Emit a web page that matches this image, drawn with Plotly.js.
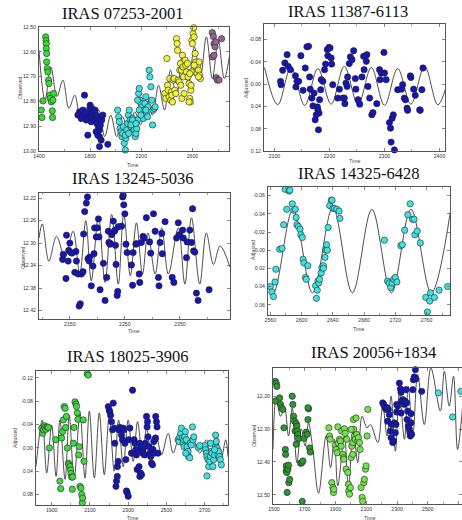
<!DOCTYPE html>
<html><head><meta charset="utf-8">
<script src="https://cdn.plot.ly/plotly-3.0.1.min.js"></script>
<style>html,body{margin:0;padding:0;background:#fff}#chart{width:462px;height:520px}</style>
</head><body><div id="chart"></div>
<script>
// ---------- Titles ----------
const titles = ["IRAS 07253-2001","IRAS 11387-6113","IRAS 13245-5036","IRAS 14325-6428","IRAS 18025-3906","IRAS 20056+1834"];
const yTitles = ["Observed","Adjusted","Observed","Adjusted","Adjusted","Observed"];

// ---------- Panel 1: IRAS 07253-2001 ----------
const p1GreenX = [1418,1423,1431,1452,1455,1457,1457,1460,1460,1465,1470,1475,1478,1483,1488,1496,1509,1514,1504,1506];
const p1GreenY = [12.835,12.865,12.798,12.540,12.555,12.567,12.587,12.607,12.641,12.668,12.681,12.714,12.728,12.775,12.788,12.802,12.795,12.768,12.838,12.865];
const p1BlueX = [1704,1717,1730,1738,1756,1769,1782,1790,1795,1800,1808,1813,1821,1828,1834,1839,1847,1852,1860,1865,1873,1880,1886,1891,1873,1886,1873,1782,1938,1847,1808,1899,1730,1743,1764,1860];
const p1BlueY = [12.855,12.842,12.848,12.862,12.775,12.875,12.869,12.855,12.835,12.815,12.848,12.828,12.862,12.842,12.875,12.835,12.855,12.889,12.869,12.902,12.915,12.895,12.862,12.875,12.942,12.956,12.982,12.936,12.973,12.922,12.882,12.855,12.869,12.835,12.848,12.936];
const p1CyanX = [2015,2023,2028,2034,2041,2049,2054,2060,2067,2075,2080,2086,2093,2099,2106,2112,2119,2125,2132,2138,2145,2153,2158,2164,2171,2179,2184,2190,2197,2205,2210,2216,2223,2228,2236,2241,2249,2254,2262,2267,2275,2283,2288,2293,2301,2309,2184,2236,2132,2171,2119,2075,2101,2158,2197];
const p1CyanY = [12.835,12.862,12.882,12.909,12.922,12.942,12.929,12.902,12.969,12.996,12.949,12.915,12.889,12.855,12.835,12.875,12.902,12.882,12.869,12.895,12.915,12.942,12.929,12.909,12.875,12.768,12.748,12.795,12.808,12.822,12.848,12.869,12.835,12.808,12.781,12.848,12.862,12.822,12.674,12.701,12.741,12.795,12.895,12.835,12.828,12.822,12.835,12.835,12.875,12.795,12.895,12.936,12.929,12.889,12.855];
const p1YellowX = [2384,2392,2400,2405,2410,2418,2423,2431,2436,2439,2444,2449,2457,2462,2470,2475,2480,2483,2488,2496,2501,2506,2509,2514,2517,2522,2527,2530,2535,2543,2548,2553,2561,2566,2574,2579,2584,2587,2589,2592,2595,2600,2605,2610,2613,2621,2626,2631,2636,2641,2647,2652,2657,2662,2574,2579,2647,2613];
const p1YellowY = [12.768,12.788,12.627,12.735,12.755,12.781,12.708,12.795,12.761,12.775,12.802,12.714,12.708,12.755,12.768,12.547,12.567,12.594,12.714,12.721,12.674,12.647,12.735,12.674,12.788,12.614,12.661,12.701,12.768,12.634,12.654,12.681,12.647,12.701,12.728,12.788,12.802,12.755,12.735,12.681,12.554,12.567,12.527,12.503,12.540,12.607,12.641,12.661,12.688,12.654,12.674,12.641,12.694,12.708,12.802,12.688,12.701,12.654];
const p1PurpleX = [2756,2764,2756,2769,2777,2782,2787,2795,2808,2828,2769];
const p1PurpleY = [12.523,12.538,12.621,12.567,12.580,12.560,12.704,12.714,12.714,12.547,12.614];
const p1LineX = [1400,1447,1493,1540,1587,1634,1680,1727,1774,1821,1867,1914,1961,2008,2054,2101,2148,2195,2241,2288,2335,2382,2428,2475,2522,2569,2615,2662,2709,2756,2802,2849,2896];
const p1LineY = [12.594,12.795,12.661,12.781,12.714,12.828,12.775,12.882,12.822,12.889,12.835,12.942,12.855,12.942,12.862,12.929,12.842,12.895,12.781,12.855,12.735,12.835,12.674,12.781,12.614,12.728,12.580,12.701,12.540,12.708,12.554,12.708,12.594];

// ---------- Panel 2: IRAS 11387-6113 ----------
const p2BlueX = [2111,2112,2115,2119,2123,2125,2129,2138,2139,2141,2144,2148,2152,2156,2159,2162,2164,2165,2168,2170,2172,2174,2176,2178,2179,2180,2181,2182,2184,2185,2188,2191,2193,2196,2197,2199,2201,2203,2204,2206,2215,2218,2224,2227,2228,2230,2232,2233,2236,2238,2241,2244,2247,2248,2252,2255,2259,2262,2263,2265,2267,2268,2270,2273,2277,2279,2286,2291,2292,2294,2299,2300,2303,2309,2311,2312,2314,2316,2318,2324,2331,2333,2336,2338,2341,2342,2347,2348,2353,2356,2364,2365,2368,2370];
const p2BlueY = [-0.005,0.001,-0.025,-0.038,-0.053,-0.032,-0.026,-0.015,0.005,-0.005,-0.005,-0.051,0.011,-0.029,-0.067,-0.068,-0.013,0.009,0.025,0.039,0.016,0.064,0.055,0.041,0.046,0.082,0.052,0.028,0.010,-0.008,-0.005,-0.026,-0.036,-0.062,-0.051,-0.066,-0.065,-0.047,-0.036,0.001,0.025,0.009,0.025,0.025,0.035,-0.002,0.004,-0.013,-0.037,-0.049,-0.044,-0.060,-0.010,0.009,0.028,0.036,-0.013,-0.050,-0.026,-0.050,-0.041,-0.053,0.004,0.025,0.055,0.051,0.035,-0.026,-0.008,-0.020,-0.057,-0.020,-0.008,0.069,0.079,0.104,0.061,0.055,0.118,0.010,0.009,0.001,0.025,0.028,0.043,0.047,-0.015,-0.012,0.009,0.020,0.046,0.047,0.010,-0.029];
const p2LineX = [2082,2106,2130,2155,2179,2203,2227,2252,2276,2300,2324,2348,2373,2397,2421];
const p2LineY = [-0.030,0.037,-0.030,0.038,-0.028,0.036,-0.032,0.037,-0.030,0.038,-0.028,0.036,-0.032,0.037,-0.030];

// ---------- Panel 3: IRAS 13245-5036 ----------
const p3BlueX = [2137,2138,2143,2144,2147,2148,2150,2152,2154,2159,2161,2162,2165,2167,2169,2171,2174,2175,2177,2180,2182,2183,2185,2186,2189,2192,2194,2195,2198,2200,2202,2203,2205,2211,2214,2217,2220,2221,2223,2224,2226,2229,2231,2232,2233,2234,2236,2237,2238,2244,2246,2247,2248,2250,2252,2254,2262,2264,2265,2270,2271,2276,2277,2280,2283,2285,2289,2295,2297,2302,2305,2311,2312,2314,2317,2318,2323,2336,2339,2344,2347,2349,2355,2356,2362,2363,2368,2371,2373,2375,2377,2380,2383,2403];
const p3BlueY = [12.329,12.320,12.363,12.286,12.332,12.313,12.300,12.317,12.318,12.352,12.315,12.332,12.355,12.412,12.408,12.355,12.351,12.284,12.244,12.229,12.218,12.328,12.332,12.325,12.376,12.341,12.319,12.273,12.289,12.273,12.257,12.289,12.383,12.336,12.402,12.361,12.279,12.299,12.302,12.301,12.285,12.261,12.279,12.277,12.304,12.338,12.393,12.386,12.271,12.270,12.218,12.215,12.232,12.248,12.302,12.317,12.339,12.375,12.317,12.302,12.301,12.355,12.370,12.299,12.288,12.291,12.255,12.298,12.318,12.248,12.279,12.361,12.376,12.299,12.283,12.319,12.262,12.361,12.370,12.291,12.264,12.285,12.277,12.291,12.326,12.298,12.277,12.299,12.239,12.314,12.316,12.389,12.402,12.383];
const p3LineX = [2094,2100,2112,2126,2141,2156,2168,2179,2189,2202,2214,2226,2238,2248,2260,2271,2282,2292,2305,2317,2329,2347,2359,2371,2386,2398,2411,2423,2441];
const p3LineY = [12.291,12.266,12.332,12.288,12.326,12.279,12.355,12.260,12.367,12.252,12.370,12.249,12.373,12.249,12.358,12.264,12.355,12.282,12.355,12.273,12.355,12.273,12.373,12.255,12.373,12.282,12.338,12.305,12.343];

// ---------- Panel 4: IRAS 14325-6428 ----------
const p4CyanX = [2560,2562,2564,2566,2567,2572,2575,2577,2579,2581,2584,2585,2588,2590,2592,2593,2594,2596,2598,2599,2601,2602,2603,2605,2606,2608,2618,2619,2620,2621,2622,2623,2625,2626,2628,2628,2630,2631,2632,2633,2634,2636,2638,2639,2640,2642,2645,2648,2649,2706,2710,2712,2714,2716,2718,2720,2722,2727,2729,2732,2736,2739,2742,2744,2745,2748,2752,2759,2761,2764,2765,2770,2776,2787];
const p4CyanY = [0.040,0.046,0.051,0.035,0.021,-0.001,-0.002,-0.028,-0.067,-0.045,-0.065,-0.066,-0.051,-0.044,-0.045,-0.036,-0.028,-0.026,-0.023,-0.017,-0.014,0.010,0.014,0.030,0.032,0.017,0.039,0.053,0.044,0.034,0.036,0.032,0.025,0.019,0.017,0.020,0.008,0.000,-0.006,0.000,-0.025,-0.049,-0.055,-0.055,-0.046,-0.046,-0.045,-0.043,-0.035,-0.011,0.034,0.036,0.041,0.036,0.032,0.030,0.035,-0.005,-0.006,-0.022,-0.039,-0.051,-0.034,-0.034,-0.017,-0.021,-0.008,0.052,0.068,0.056,0.047,0.052,0.044,0.040];
const p4LineX = [2557,2564,2589,2614,2640,2665,2690,2715,2740,2766,2791];
const p4LineY = [0.040,0.047,-0.045,0.047,-0.047,0.047,-0.045,0.047,-0.045,0.047,-0.045];

// ---------- Panel 5: IRAS 18025-3906 ----------
const p5GreenX = [1848,1853,1857,1862,1865,1870,1877,1883,1888,1921,1943,1947,1952,1957,1961,1966,1970,1973,1977,1982,1987,1990,1996,1999,2001,2004,2008,2010,2013,2017,2022,2027,2030,2034,2037,2041,2044,2048,2053,2057,2060,2062,2065,2069,2086,2091];
const p5GreenY = [-0.034,-0.025,-0.031,-0.038,-0.035,-0.032,-0.036,-0.035,0.000,-0.014,0.057,0.070,-0.017,-0.028,-0.048,-0.071,-0.068,-0.035,-0.054,0.000,0.026,0.029,0.032,0.038,0.044,0.050,0.071,0.050,-0.008,-0.035,-0.079,-0.075,-0.071,-0.060,-0.049,0.012,-0.002,0.066,0.069,0.080,0.094,0.086,-0.048,0.023,-0.127,-0.125];
const p5BlueX = [2196,2201,2204,2208,2213,2218,2222,2227,2230,2236,2239,2243,2244,2248,2251,2256,2260,2265,2270,2274,2277,2283,2288,2291,2295,2300,2303,2309,2317,2323,2326,2331,2335,2340,2343,2347,2352,2357,2361,2364,2370,2375,2378,2382,2387,2390,2396,2401,2404,2410,2413,2418,2422,2427,2430,2436,2439,2443,2444,2448,2451,2456,2434,2399,2361,2370];
const p5BlueY = [-0.071,-0.065,-0.062,-0.056,-0.045,-0.031,-0.077,-0.034,-0.008,0.066,0.057,0.049,0.032,0.023,-0.031,-0.035,-0.034,-0.022,-0.014,-0.034,-0.031,-0.008,0.020,0.074,0.077,0.083,-0.014,-0.034,0.009,-0.099,0.009,-0.014,-0.008,0.003,0.012,0.037,0.003,0.032,0.049,0.043,0.046,0.009,0.003,-0.002,0.012,-0.008,-0.054,-0.045,-0.019,-0.002,0.009,0.015,0.026,0.029,0.003,0.009,-0.014,-0.017,-0.054,-0.045,-0.036,0.009,-0.011,-0.036,-0.008,-0.002];
const p5CyanX = [2561,2566,2570,2575,2578,2583,2587,2590,2592,2596,2599,2604,2608,2613,2616,2622,2625,2630,2636,2639,2643,2665,2700,2705,2709,2712,2717,2721,2726,2730,2735,2738,2743,2747,2752,2756,2757,2761,2764,2770,2773,2778,2782,2787,2712,2674,2601,2730,2752];
const p5CyanY = [-0.014,-0.011,-0.019,-0.025,-0.034,-0.017,-0.008,-0.014,-0.002,-0.019,-0.028,-0.014,-0.002,0.006,0.015,0.017,-0.008,-0.005,-0.036,-0.014,-0.019,-0.001,-0.004,0.003,0.009,0.015,0.020,0.032,0.023,0.015,0.006,0.009,0.032,0.020,0.012,-0.002,-0.022,-0.011,0.000,0.012,0.006,0.015,0.020,0.029,0.048,-0.004,0.009,-0.008,0.003];
const p5LineX = [1818,1851,1874,1900,1923,1943,1970,1992,2017,2048,2074,2097,2123,2149,2175,2201,2227,2250,2274,2300,2326,2349,2375,2396,2422,2448,2474,2509,2535,2570,2604,2639,2674,2709,2729,2761,2787,2810,2822];
const p5LineY = [0.032,-0.048,0.043,-0.039,0.049,-0.048,0.054,-0.056,0.054,-0.059,0.052,-0.063,0.052,-0.060,0.046,-0.056,0.040,-0.048,0.032,-0.048,0.023,-0.045,0.017,-0.034,0.012,-0.019,0.012,-0.025,0.009,-0.022,0.009,-0.014,0.009,-0.014,0.017,-0.022,0.017,-0.014,0.015];

// ---------- Panel 6: IRAS 20056+1834 ----------
const p6DarkGreenX = [1509,1515,1519,1511,1537,1543,1548,1558,1565,1574,1576,1580,1580,1584,1591,1595,1597,1602,1586,1619,1623,1628,1634,1638,1645,1649,1651,1656,1660,1645,1673,1682,1688,1695,1710,1716,1721,1725,1731,1736,1684,1721];
const p6DarkGreenY = [12.155,12.160,12.170,12.215,12.205,12.225,12.235,12.240,12.296,12.362,12.377,12.412,12.427,12.432,12.422,12.410,12.463,12.453,12.493,12.200,12.225,12.261,12.276,12.306,12.283,12.291,12.306,12.316,12.329,12.346,12.404,12.402,12.397,12.328,12.309,12.316,12.271,12.238,12.357,12.370,12.520,12.235];
const p6LightGreenX = [1857,1861,1865,1876,1883,1887,1889,1898,1904,1911,1915,1919,1926,1932,1937,1941,1948,1952,1954,1958,1963,1969,1973,1980,1984,1986,1991,1997,2002,2006,2012,2017,2019,2023,2028,2034,2038,2045,2049,2056,2060,2066,2073,2077,2084,2088,2095,2099,2105,2110,2002,2012];
const p6LightGreenY = [12.296,12.321,12.331,12.463,12.478,12.493,12.483,12.349,12.362,12.372,12.293,12.343,12.331,12.336,12.352,12.306,12.377,12.387,12.392,12.299,12.313,12.422,12.331,12.432,12.468,12.488,12.498,12.478,12.387,12.352,12.341,12.271,12.301,12.321,12.331,12.266,12.316,12.336,12.326,12.341,12.362,12.478,12.508,12.520,12.463,12.453,12.422,12.412,12.321,12.240,12.301,12.377];
const p6BlueX = [2207,2213,2222,2229,2235,2239,2244,2250,2257,2261,2265,2272,2276,2283,2289,2293,2298,2304,2315,2322,2326,2330,2337,2343,2348,2352,2358,2363,2369,2373,2380,2384,2386,2391,2395,2402,2406,2412,2419,2423,2391,2298,2326,2365,2460];
const p6BlueY = [12.220,12.225,12.235,12.240,12.235,12.276,12.240,12.256,12.306,12.326,12.286,12.341,12.336,12.281,12.311,12.286,12.248,12.230,12.160,12.178,12.188,12.215,12.210,12.215,12.225,12.215,12.180,12.220,12.245,12.291,12.301,12.311,12.321,12.281,12.316,12.180,12.150,12.141,12.119,12.147,12.253,12.225,12.251,12.271,12.185];
const p6CyanX = [2568,2661,2715];
const p6CyanY = [12.190,12.263,12.185];
const p6LineX = [1494,1515,1543,1569,1595,1619,1649,1677,1703,1725,1753,1790,1839,1868,1893,1915,1958,1984,2015,2045,2073,2105,2127,2175,2207,2235,2261,2289,2315,2348,2373,2402,2434,2477,2520,2581,2607,2639,2667,2693,2726];
const p6LineY = [12.362,12.202,12.261,12.235,12.321,12.235,12.402,12.299,12.352,12.281,12.362,12.495,12.321,12.417,12.331,12.473,12.321,12.483,12.301,12.402,12.261,12.296,12.286,12.341,12.230,12.321,12.200,12.367,12.190,12.331,12.170,12.321,12.134,12.286,12.114,12.245,12.124,12.230,12.139,12.362,12.230];

// ---------- Tick labels ----------
const p1YTicks = [12.5,12.6,12.7,12.8,12.9,13.0];
const p1YText = ["12.50","12.60","12.70","12.80","12.90","13.00"];
const p2YTicks = [-0.08,-0.04,0,0.04,0.08,0.12];
const p2YText = ["-0.08","-0.04","-0.00","0.04","0.08","0.12"];
const p3YTicks = [12.22,12.26,12.30,12.34,12.38,12.42];
const p3YText = ["12.22","12.26","12.30","12.34","12.38","12.42"];
const p4YTicks = [-0.06,-0.04,-0.02,0,0.02,0.04,0.06];
const p4YText = ["-0.06","-0.04","-0.02","-0.00","0.02","0.04","0.06"];
const p5YTicks = [-0.12,-0.08,-0.04,0,0.04,0.08];
const p5YText = ["-0.12","-0.08","-0.04","0.00","0.04","0.08"];
const p6YTicks = [12.2,12.3,12.4,12.5];
const p6YText = ["12.20","12.30","12.40","12.50"];

// ---------- Colours ----------
const C = {green:'#35dc35', blue:'#1515b8', cyan:'#3fe2e2', yellow:'#f2f23c', purple:'#946494',
           green5:'#3fd83f', dkgreen:'#2e962e', ltgreen:'#74e24e'};

const traces = [];
function line(xs, ys, k){
  traces.push({x:xs, y:ys, xaxis:'x'+(k===1?'':k), yaxis:'y'+(k===1?'':k), type:'scatter', mode:'lines',
    line:{color:'#3a3a3a', width:0.9, shape:'spline', smoothing:1}, hoverinfo:'skip', showlegend:false});
}
function pts(xs, ys, color, k){
  traces.push({x:xs, y:ys, xaxis:'x'+(k===1?'':k), yaxis:'y'+(k===1?'':k), type:'scatter', mode:'markers',
    cliponaxis:false,
    marker:{color:color, size:6.3, line:{color:'#222', width:0.6}}, showlegend:false});
}
line(p1LineX,p1LineY,1);
pts(p1GreenX,p1GreenY,C.green,1); pts(p1BlueX,p1BlueY,C.blue,1); pts(p1CyanX,p1CyanY,C.cyan,1);
pts(p1YellowX,p1YellowY,C.yellow,1); pts(p1PurpleX,p1PurpleY,C.purple,1);
line(p2LineX,p2LineY,2); pts(p2BlueX,p2BlueY,C.blue,2);
line(p3LineX,p3LineY,3); pts(p3BlueX,p3BlueY,C.blue,3);
line(p4LineX,p4LineY,4); pts(p4CyanX,p4CyanY,C.cyan,4);
line(p5LineX,p5LineY,5); pts(p5GreenX,p5GreenY,C.green5,5); pts(p5BlueX,p5BlueY,C.blue,5); pts(p5CyanX,p5CyanY,C.cyan,5);
line(p6LineX,p6LineY,6); pts(p6DarkGreenX,p6DarkGreenY,C.dkgreen,6); pts(p6LightGreenX,p6LightGreenY,C.ltgreen,6);
pts(p6BlueX,p6BlueY,C.blue,6); pts(p6CyanX,p6CyanY,C.cyan,6);

const W=462, H=520;
const tickFont = {family:'Arial, Liberation Sans, sans-serif', size:5.2, color:'#333'};
function xax(dom, range, tick0, dtick, k){
  return {domain:[dom[0]/W, dom[1]/W], range:range, anchor:'y'+(k===1?'':k), tick0:tick0, dtick:dtick,
    ticks:'inside', ticklen:3, tickwidth:0.7, tickcolor:'#555', mirror:'ticks', showline:true, linecolor:'#555', linewidth:1,
    showgrid:false, zeroline:false, tickfont:tickFont, ticklabelstandoff:0,
    minor:{ticks:'inside', ticklen:2, dtick:dtick/2, tickcolor:'#666', tickwidth:0.6}};
}
function yax(dom, range, tv, tt, k){
  return {domain:[1-dom[1]/H, 1-dom[0]/H], range:range, anchor:'x'+(k===1?'':k), tickvals:tv, ticktext:tt,
    ticks:'inside', ticklen:3, tickwidth:0.7, tickcolor:'#555', mirror:'ticks', showline:true, linecolor:'#555', linewidth:1,
    showgrid:false, zeroline:false, tickfont:tickFont, ticklabelstandoff:1};
}

const layout = {
  width:W, height:H, margin:{l:0,r:0,t:0,b:0}, paper_bgcolor:'#fff', plot_bgcolor:'#fff', showlegend:false,
  xaxis: xax([39,229],[1400,2886],1400,400,1),   yaxis: yax([27,151],[13.0,12.5],p1YTicks,p1YText,1),
  xaxis2:xax([264,445],[2081,2410],2100,100,2),  yaxis2:yax([24,151],[0.12,-0.108],p2YTicks,p2YText,2),
  xaxis3:xax([39,230],[2094,2441],2150,100,3),   yaxis3:yax([193,319],[12.435,12.211],p3YTicks,p3YText,3),
  xaxis4:xax([268,450],[2557,2790],2560,40,4),   yaxis4:yax([187,315],[0.0713,-0.0695],p4YTicks,p4YText,4),
  xaxis5:xax([36,228],[1818,2822],1900,200,5),   yaxis5:yax([371,505],[0.098,-0.132],p5YTicks,p5YText,5),
  xaxis6:xax([273,462],[1494,2722],1500,200,6),  yaxis6:yax([368,504],[12.528,12.114],p6YTicks,p6YText,6),
  annotations:[]
};
const titlePos = [[123,13],[348,11],[132,178],[358,174],[127,356],[373,352]];
const yTitlePos = [[20,88],[246,88],[23,258],[253,250],[15,438],[254,436]];
const xTitlePos = [[132,165],[354,161],[133,331],[358,329],[132,517.5],[369,517.5]];
const serif = 'Liberation Serif, Times New Roman, serif';
for(let i=0;i<6;i++){
  layout.annotations.push({text:titles[i], x:titlePos[i][0]/W, y:1-titlePos[i][1]/H, xref:'paper', yref:'paper',
    showarrow:false, xanchor:'center', yanchor:'middle', font:{family:serif, size:16.5, color:'#111'}});
  layout.annotations.push({text:yTitles[i], x:yTitlePos[i][0]/W, y:1-yTitlePos[i][1]/H, xref:'paper', yref:'paper',
    showarrow:false, xanchor:'center', yanchor:'middle', textangle:-90, font:{family:'Arial, sans-serif', size:5.2, color:'#444'}});
  layout.annotations.push({text:'Time', x:xTitlePos[i][0]/W, y:1-xTitlePos[i][1]/H, xref:'paper', yref:'paper',
    showarrow:false, xanchor:'center', yanchor:'middle', borderpad:0, font:{family:'Arial, sans-serif', size:5.2, color:'#444'}});
}
Plotly.newPlot('chart', traces, layout, {staticPlot:true, displayModeBar:false});
</script>
</body></html>
